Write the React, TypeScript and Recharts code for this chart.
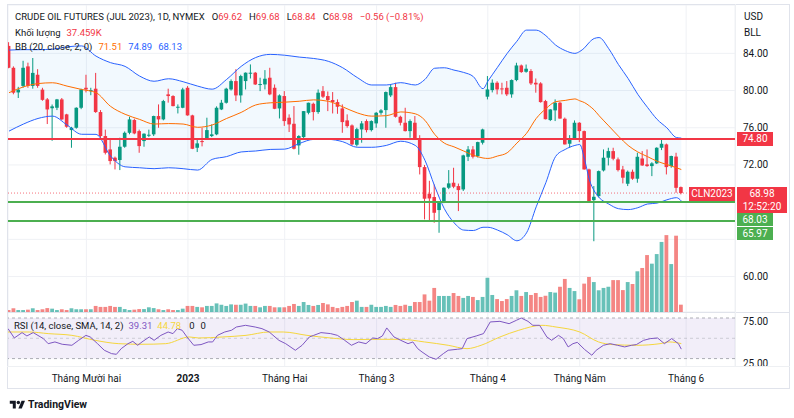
import React from 'react';
import { ComposedChart, Bar, Line, Area, XAxis, YAxis, CartesianGrid, ReferenceLine, ReferenceArea } from 'recharts';

// daily candles, CLN2023 (index 0 = first bar on the left)
const opens = [84.8, 82.45, 79.8, 80.5, 82.6, 80.5, 81.7, 80.1, 79.05, 78.1, 78.15, 79.05, 77.44, 75.75, 76.0, 78.15, 80.3, 79.95, 80.2, 77.69, 75.11, 73.67, 72.78, 72.53, 73.96, 75.46, 76.83, 75.64, 74.57, 75.15, 75.29, 77.26, 76.9, 79.59, 79.41, 78.19, 78.15, 80.3, 77.33, 73.85, 74.57, 74.75, 75.11, 75.29, 77.97, 78.69, 80.12, 81.02, 79.48, 81.02, 81.81, 81.92, 80.66, 80.66, 81.38, 80.3, 78.08, 79.41, 77.08, 76.43, 74.1, 75.0, 77.61, 78.58, 77.69, 79.94, 79.41, 78.98, 78.76, 78.08, 76.79, 76.25, 74.17, 75.82, 76.72, 75.75, 76.47, 77.61, 77.9, 79.48, 80.37, 77.18, 76.54, 75.64, 76.54, 74.75, 71.77, 68.9, 68.55, 67.15, 68.01, 69.55, 70.09, 69.73, 69.37, 72.88, 73.67, 72.96, 74.39, 79.34, 80.05, 80.84, 80.23, 80.3, 79.59, 81.13, 82.7, 82.02, 82.1, 80.84, 80.77, 78.87, 76.83, 77.87, 78.69, 76.97, 74.28, 74.82, 76.54, 75.64, 71.52, 68.22, 68.65, 71.41, 72.78, 73.49, 72.6, 71.52, 69.98, 71.27, 70.52, 72.7, 72.06, 71.88, 72.17, 73.85, 74.21, 71.88, 72.9, 69.62];
const highs = [85.2, 82.6, 80.4, 83.2, 83.0, 83.5, 82.3, 80.3, 79.2, 78.5, 79.1, 79.2, 77.5, 76.1, 78.2, 80.2, 81.7, 80.3, 81.9, 77.9, 75.8, 74.9, 72.9, 74.93, 75.6, 77.18, 76.97, 75.8, 75.4, 75.8, 77.3, 78.51, 79.0, 80.2, 79.5, 78.51, 80.3, 80.48, 77.4, 74.75, 76.0, 77.08, 76.36, 78.3, 79.0, 80.3, 81.2, 82.3, 81.7, 81.95, 82.81, 82.0, 81.38, 82.2, 82.45, 80.66, 79.59, 79.94, 77.44, 78.33, 75.2, 77.8, 78.7, 78.7, 80.12, 80.48, 79.9, 79.84, 79.05, 78.51, 77.44, 76.36, 76.0, 76.72, 76.9, 76.8, 77.7, 78.0, 79.9, 80.6, 80.84, 77.3, 78.15, 76.9, 77.26, 75.2, 72.0, 70.3, 69.9, 68.1, 69.6, 71.45, 71.7, 70.0, 73.1, 74.03, 74.03, 74.5, 75.9, 81.56, 81.2, 81.0, 80.84, 81.02, 81.2, 82.99, 82.8, 82.8, 82.3, 81.3, 80.9, 79.0, 78.0, 79.05, 78.8, 77.1, 75.21, 76.79, 76.6, 75.7, 71.6, 69.73, 71.4, 73.67, 73.85, 73.85, 72.8, 71.9, 71.4, 71.5, 73.31, 73.49, 73.67, 72.3, 73.9, 74.75, 74.3, 73.0, 73.31, 69.68];
const lows = [82.4, 79.6, 79.2, 80.3, 80.3, 80.2, 80.3, 78.9, 76.4, 74.6, 77.9, 76.8, 76.0, 73.85, 75.9, 78.0, 79.8, 79.5, 77.6, 74.8, 73.13, 72.06, 71.52, 71.45, 73.85, 75.3, 75.3, 73.31, 73.96, 75.0, 75.11, 76.0, 76.8, 78.7, 78.3, 77.54, 78.1, 77.3, 73.7, 73.39, 74.0, 74.7, 75.0, 75.2, 77.9, 78.6, 80.0, 78.87, 78.7, 80.12, 81.3, 80.6, 79.94, 80.12, 79.5, 78.0, 77.0, 76.2, 75.54, 73.67, 73.1, 74.9, 77.44, 76.79, 77.5, 79.2, 77.79, 77.54, 77.5, 75.46, 76.0, 74.1, 74.0, 74.39, 75.5, 75.6, 76.0, 77.4, 76.0, 79.3, 77.1, 76.25, 75.6, 74.93, 74.7, 70.98, 66.15, 65.97, 65.79, 64.71, 67.9, 69.4, 69.5, 67.04, 69.2, 72.42, 72.7, 72.8, 74.2, 79.05, 79.8, 79.59, 79.59, 79.41, 79.23, 81.0, 81.9, 81.92, 80.6, 79.77, 78.7, 76.9, 76.72, 76.72, 76.97, 74.2, 73.85, 74.7, 74.46, 71.5, 68.0, 63.8, 68.5, 71.3, 71.95, 72.5, 71.3, 70.02, 69.73, 70.4, 70.09, 71.9, 71.8, 70.8, 72.1, 73.6, 70.98, 71.7, 69.01, 68.84];
const closes = [82.45, 79.77, 80.1, 82.45, 80.5, 81.9, 80.5, 79.0, 77.97, 78.3, 79.05, 76.9, 76.11, 76.0, 78.15, 80.12, 80.12, 80.05, 77.69, 75.11, 73.31, 72.42, 72.42, 73.96, 75.46, 76.9, 75.39, 74.03, 75.36, 75.25, 77.26, 76.9, 78.87, 79.41, 78.33, 78.26, 80.12, 77.33, 73.74, 74.32, 74.46, 75.75, 75.29, 78.15, 78.69, 80.2, 81.02, 79.48, 81.56, 81.92, 81.92, 80.66, 80.7, 81.27, 79.59, 78.04, 79.48, 76.72, 76.36, 73.74, 75.11, 77.79, 78.69, 77.69, 79.77, 79.34, 78.98, 78.76, 78.26, 76.61, 76.18, 74.21, 75.85, 76.47, 75.75, 76.72, 77.61, 77.87, 79.84, 80.37, 77.18, 76.54, 75.64, 76.72, 74.75, 71.77, 68.37, 68.4, 66.86, 68.05, 69.55, 70.02, 69.66, 69.3, 73.03, 73.67, 72.88, 74.46, 75.82, 80.12, 80.84, 80.12, 80.2, 79.59, 81.13, 82.7, 81.99, 82.35, 80.77, 80.66, 78.76, 76.92, 77.97, 78.69, 76.99, 74.21, 74.82, 76.54, 75.64, 71.52, 68.01, 68.58, 71.34, 72.78, 73.49, 72.67, 71.45, 70.63, 71.27, 70.52, 72.88, 71.95, 71.88, 72.17, 73.85, 74.28, 71.77, 72.96, 69.54, 68.98];
// volume in thousands
const volumes = [10, 19, 10, 10, 12, 19, 10, 14, 20, 17, 10, 14, 10, 19, 14, 14, 14, 14, 31, 26, 26, 31, 26, 26, 15, 10, 12, 15, 15, 24, 20, 14, 10, 14, 10, 10, 17, 31, 31, 26, 24, 31, 31, 44, 37, 31, 39, 37, 37, 43, 31, 31, 24, 31, 31, 24, 24, 24, 31, 41, 31, 51, 36, 31, 36, 46, 39, 26, 20, 26, 31, 51, 58, 26, 26, 37, 26, 26, 31, 26, 36, 31, 37, 31, 51, 51, 90, 58, 123, 82, 82, 82, 97, 82, 72, 82, 77, 61, 77, 175, 87, 66, 56, 66, 82, 111, 82, 102, 87, 97, 77, 83, 102, 99, 129, 169, 123, 107, 65, 145, 179, 153, 111, 123, 129, 163, 163, 112, 153, 143, 208, 225, 291, 247, 296, 358, 393, 245, 390, 37.459];

// Bollinger bands (20, 2) read at these bar indices
const bbIdx = [0, 3, 6, 9, 12, 15, 18, 21, 24, 27, 30, 33, 36, 39, 42, 45, 48, 51, 54, 57, 60, 63, 66, 69, 72, 75, 78, 81, 84, 86, 88, 90, 92, 94, 96, 98, 99, 101, 103, 105, 107, 109, 111, 113, 115, 117, 118, 119, 120, 121, 122, 124, 126, 128, 130, 132, 134, 136, 138, 139];
const bbUpper = [84.35, 84.4, 84.4, 84.45, 84.7, 84.8, 83.7, 83.0, 82.6, 81.56, 81.0, 81.27, 80.95, 80.48, 80.15, 81.2, 82.6, 83.55, 83.89, 83.8, 83.6, 83.45, 83.15, 82.45, 81.4, 80.6, 80.6, 80.85, 80.6, 81.2, 82.4, 82.45, 82.2, 81.95, 81.5, 80.2, 81.0, 82.5, 84.0, 85.3, 86.5, 86.5, 85.9, 84.9, 84.3, 84.0, 84.2, 84.6, 85.2, 85.6, 85.7, 84.5, 82.8, 81.3, 79.6, 78.2, 76.9, 76.0, 74.95, 74.89];
const bbMid = [79.77, 80.4, 80.75, 80.84, 80.48, 80.12, 79.77, 78.3, 77.45, 76.9, 76.4, 76.45, 76.4, 76.05, 76.3, 77.0, 77.65, 78.45, 78.68, 78.75, 78.85, 79.0, 78.85, 78.25, 77.6, 77.25, 77.3, 77.7, 77.5, 76.8, 75.3, 74.35, 73.95, 73.5, 73.05, 72.75, 72.7, 72.96, 73.31, 74.35, 75.4, 77.0, 78.05, 78.8, 78.94, 79.1, 78.9, 78.7, 78.35, 77.9, 77.3, 76.2, 75.1, 74.1, 73.4, 72.9, 72.4, 72.05, 71.7, 71.51];
const bbLower = [75.64, 76.4, 77.0, 77.25, 76.3, 75.3, 75.29, 72.96, 71.8, 71.7, 71.6, 71.7, 71.6, 71.45, 72.6, 72.9, 73.4, 73.5, 73.67, 73.7, 74.3, 74.75, 74.75, 74.5, 73.9, 73.9, 74.1, 74.55, 74.1, 72.5, 69.73, 67.3, 65.8, 65.0, 64.95, 65.3, 65.3, 65.0, 64.5, 63.85, 64.7, 67.5, 70.1, 72.9, 73.67, 74.1, 74.2, 72.6, 70.4, 69.2, 68.5, 67.8, 67.3, 67.2, 67.4, 67.8, 67.9, 68.25, 68.48, 68.13];

// RSI 14 and its SMA 14
const rsiIdx = [-0.2, 1.1, 2.7, 3.7, 5.0, 7.1, 8.1, 9.5, 11.0, 13.0, 14.4, 15.9, 16.8, 18.3, 19.7, 21.2, 22.2, 23.2, 24.6, 25.6, 26.6, 27.5, 29.0, 30.0, 31.4, 32.9, 33.9, 34.8, 35.8, 36.8, 38.2, 39.7, 41.2, 42.1, 43.1, 44.6, 46.0, 47.0, 48.9, 50.9, 52.3, 53.8, 55.8, 57.2, 59.2, 60.6, 62.1, 63.0, 64.5, 66.5, 67.9, 69.4, 70.8, 72.3, 73.8, 75.2, 76.2, 77.2, 78.1, 79.6, 81.0, 82.5, 83.5, 84.5, 85.4, 86.9, 88.3, 89.8, 90.8, 92.7, 93.7, 94.7, 96.6, 98.1, 99.5, 101.5, 103.4, 104.9, 105.9, 107.3, 108.3, 109.7, 111.2, 112.2, 113.6, 114.6, 115.6, 116.6, 117.5, 119.0, 120.5, 121.4, 122.9, 124.3, 125.8, 127.3, 128.7, 129.7, 131.2, 132.6, 134.1, 135.5, 137.0, 138.4, 139.0];
const rsiVal = [59.5, 50.3, 55.6, 52.3, 55.6, 49.7, 44.7, 46.4, 44.1, 43.1, 48.0, 52.9, 51.3, 44.7, 38.2, 34.9, 34.2, 39.8, 44.7, 47.0, 43.1, 46.4, 51.3, 48.0, 52.9, 56.2, 54.6, 59.5, 57.9, 51.3, 43.1, 43.8, 46.4, 46.4, 52.9, 56.2, 57.9, 61.1, 62.8, 61.1, 59.5, 56.2, 48.0, 44.7, 38.2, 43.1, 51.3, 52.9, 55.6, 54.6, 52.9, 48.0, 43.1, 46.4, 44.7, 50.3, 49.7, 52.3, 60.2, 51.3, 48.0, 44.7, 46.4, 39.8, 36.5, 31.6, 29.3, 34.9, 38.2, 39.2, 39.8, 49.7, 52.3, 54.6, 66.1, 66.7, 64.4, 67.7, 70.0, 66.7, 62.8, 62.8, 51.3, 48.0, 52.9, 49.7, 41.5, 44.7, 46.0, 39.0, 33.3, 38.2, 43.1, 44.7, 43.1, 41.5, 43.1, 43.8, 48.0, 49.7, 50.3, 44.7, 49.7, 44.7, 39.31];
const rsiMaIdx = [-0.2, 4.2, 8.1, 13.0, 17.8, 22.7, 27.5, 32.4, 37.3, 39.2, 44.1, 49.0, 53.8, 56.7, 61.6, 66.5, 71.3, 76.2, 81.0, 85.9, 90.8, 94.7, 97.6, 101.5, 105.4, 110.2, 113.1, 118.0, 121.9, 124.8, 129.7, 134.6, 136.5, 139.0];
const rsiMaVal = [56.2, 56.2, 54.6, 52.9, 48.0, 44.7, 44.1, 44.7, 51.3, 50.3, 51.3, 52.9, 56.2, 56.2, 52.9, 50.3, 48.7, 49.0, 49.0, 46.4, 43.1, 39.8, 43.1, 51.3, 57.9, 62.8, 61.1, 56.2, 46.4, 43.8, 43.1, 44.7, 46.4, 44.78];

const monthTicks = [16, 37, 57, 76, 99, 118, 140];
const monthLabels = ['Tháng Mười hai', '2023', 'Tháng Hai', 'Tháng 3', 'Tháng 4', 'Tháng Năm', 'Tháng 6'];
const priceTicks = [60, 64, 68, 72, 76, 80, 84];
// 64 and 68 sit under the price tags in the screenshot
const hiddenPriceLabels = [64, 68];
const rsiTicks = [25, 75];

const resistance = 74.8;
const supports = [68.03, 65.97];
const lastPrice = 68.98;

const UP = '#089981';
const DOWN = '#F23645';
const FONT = 'Roboto, "Noto Sans", sans-serif';
const X_DOMAIN: [number, number] = [-0.207, 150.1];
const P_DOMAIN: [number, number] = [56.19, 89.2];

const candles = opens.map((o, i) => ({
  i,
  o,
  h: highs[i],
  l: lows[i],
  c: closes[i],
  v: volumes[i],
  range: [lows[i], highs[i]],
}));
const bbData = bbIdx.map((i, k) => ({ i, up: bbUpper[k], mid: bbMid[k], low: bbLower[k], band: [bbLower[k], bbUpper[k]] }));
const rsiData = rsiIdx.map((i, k) => ({ i, rsi: rsiVal[k] }));
const rsiMaData = rsiMaIdx.map((i, k) => ({ i, ma: rsiMaVal[k] }));

// pixel row of a price in the main pane (plot spans y 5..312)
const priceY = (p: number) => 5 + ((P_DOMAIN[1] - p) / (P_DOMAIN[1] - P_DOMAIN[0])) * 307;

const Candle = (props: any) => {
  const { x, y, width, height, payload } = props;
  if (payload == null || height == null) return null;
  const { o, h, l, c } = payload;
  const color = c >= o ? UP : DOWN;
  const cx = x + width / 2;
  const k = height / (h - l || 1);
  const top = y + (h - Math.max(o, c)) * k;
  const bh = Math.max(1, Math.abs(o - c) * k);
  return (
    <g>
      <line x1={cx} x2={cx} y1={y} y2={y + height} stroke={color} strokeWidth={1} />
      <rect x={cx - 1.8} y={top} width={3.6} height={bh} fill={color} />
    </g>
  );
};

const VolBar = (props: any) => {
  const { x, y, width, height, payload } = props;
  if (payload == null) return null;
  const color = payload.c >= payload.o ? 'rgba(38,166,154,0.7)' : 'rgba(239,83,80,0.7)';
  const cx = x + width / 2;
  return <rect x={cx - 1.9} y={y} width={3.8} height={Math.max(0, height)} fill={color} />;
};

const PriceTick = (props: any) => {
  const { y, payload } = props;
  if (hiddenPriceLabels.includes(payload.value)) return null;
  return (
    <text x={743} y={y} dy={3.5} fontSize={10} fill="#131722" fontFamily={FONT}>
      {payload.value.toFixed(2)}
    </text>
  );
};

const RsiTick = (props: any) => {
  const { y, payload } = props;
  return (
    <text x={743} y={y} dy={3.5} fontSize={10} fill="#131722" fontFamily={FONT}>
      {payload.value.toFixed(2)}
    </text>
  );
};

const TimeTick = (props: any) => {
  const { x, y, payload } = props;
  const label = monthLabels[monthTicks.indexOf(payload.value)];
  return (
    <text x={x} y={y} dy={14} textAnchor="middle" fontSize={10} fontWeight={label === '2023' ? 700 : 400} fill="#131722" fontFamily={FONT}>
      {label}
    </text>
  );
};

const Tag = ({ top, left, width, height, bg, lines }: any) => (
  <div
    style={{
      position: 'absolute',
      top,
      left,
      width,
      height,
      background: bg,
      color: '#fff',
      fontSize: 10,
      lineHeight: `${height / lines.length}px`,
      textAlign: 'center',
      fontFamily: FONT,
    }}
  >
    {lines.map((t: string) => (
      <div key={t}>{t}</div>
    ))}
  </div>
);

const red = { color: DOWN };

export default function App() {
  return (
    <div style={{ position: 'absolute', left: 0, top: 0, width: 794, height: 418, background: '#fff', fontFamily: FONT, overflow: 'hidden' }}>
      <div style={{ position: 'absolute', left: 0, top: 0 }}>
        <ComposedChart width={790} height={312} data={candles} margin={{ top: 5, right: 0, bottom: 0, left: 8 }}>
          <XAxis xAxisId="c" dataKey="i" type="number" domain={X_DOMAIN} ticks={monthTicks} hide allowDataOverflow />
          <XAxis xAxisId="v" dataKey="i" type="number" domain={X_DOMAIN} hide allowDataOverflow />
          <XAxis xAxisId="b" dataKey="i" type="number" domain={X_DOMAIN} hide allowDataOverflow />
          <YAxis
            yAxisId="p"
            orientation="right"
            width={55}
            domain={P_DOMAIN}
            ticks={priceTicks}
            allowDataOverflow
            axisLine={false}
            tickLine={false}
            tick={<PriceTick />}
          />
          <YAxis yAxisId="vol" hide domain={[0, 1569]} allowDataOverflow />
          <CartesianGrid xAxisId="c" yAxisId="p" stroke="#EFF1F5" />
          <Area xAxisId="b" yAxisId="p" data={bbData} dataKey="band" type="monotone" stroke="none" fill="#2196F3" fillOpacity={0.06} isAnimationActive={false} />
          <Bar xAxisId="v" yAxisId="vol" dataKey="v" barSize={4} shape={<VolBar />} isAnimationActive={false} />
          <Line xAxisId="b" yAxisId="p" data={bbData} dataKey="up" type="monotone" stroke="#2962FF" strokeWidth={1} dot={false} activeDot={false} isAnimationActive={false} />
          <Line xAxisId="b" yAxisId="p" data={bbData} dataKey="low" type="monotone" stroke="#2962FF" strokeWidth={1} dot={false} activeDot={false} isAnimationActive={false} />
          <Line xAxisId="b" yAxisId="p" data={bbData} dataKey="mid" type="monotone" stroke="#FF6D00" strokeWidth={1} dot={false} activeDot={false} isAnimationActive={false} />
          <ReferenceLine xAxisId="c" yAxisId="p" y={lastPrice} stroke={DOWN} strokeOpacity={0.7} strokeDasharray="1 2" />
          <ReferenceLine xAxisId="c" yAxisId="p" y={resistance} stroke="#F23645" strokeWidth={2} />
          {supports.map((s) => (
            <ReferenceLine key={s} xAxisId="c" yAxisId="p" y={s} stroke="#4CAF50" strokeWidth={2} />
          ))}
          <Bar xAxisId="c" yAxisId="p" dataKey="range" barSize={4} shape={<Candle />} isAnimationActive={false} />
        </ComposedChart>
      </div>

      <div style={{ position: 'absolute', left: 0, top: 312 }}>
        <ComposedChart width={790} height={77} margin={{ top: 0, right: 0, bottom: 0, left: 8 }}>
          <XAxis
            dataKey="i"
            type="number"
            domain={X_DOMAIN}
            ticks={monthTicks}
            interval={0}
            allowDataOverflow
            axisLine={false}
            tickLine={false}
            tickSize={0}
            height={23}
            tick={<TimeTick />}
          />
          <YAxis
            orientation="right"
            width={55}
            domain={[22.7, 75.9]}
            ticks={rsiTicks}
            allowDataOverflow
            axisLine={false}
            tickLine={false}
            tick={<RsiTick />}
          />
          <CartesianGrid horizontal={false} stroke="#EFF1F5" />
          <ReferenceArea y1={30} y2={70} fill="#7E57C2" fillOpacity={0.1} stroke="none" />
          <ReferenceLine y={70} stroke="#787B86" strokeOpacity={0.6} strokeDasharray="3 3" />
          <ReferenceLine y={50} stroke="#787B86" strokeOpacity={0.3} strokeDasharray="3 3" />
          <ReferenceLine y={30} stroke="#787B86" strokeOpacity={0.6} strokeDasharray="3 3" />
          <Line data={rsiMaData} dataKey="ma" type="monotone" stroke="#F5D63D" strokeWidth={1} dot={false} activeDot={false} isAnimationActive={false} />
          <Line data={rsiData} dataKey="rsi" type="linear" stroke="#7E57C2" strokeWidth={1} dot={false} activeDot={false} isAnimationActive={false} />
        </ComposedChart>
      </div>

      {/* frame and pane separators */}
      <div style={{ position: 'absolute', left: 7, top: 4, width: 783, height: 385, border: '1px solid #E0E3EB', boxSizing: 'border-box' }} />
      <div style={{ position: 'absolute', left: 7, top: 312, width: 783, height: 1, background: '#E0E3EB' }} />
      <div style={{ position: 'absolute', left: 7, top: 366, width: 783, height: 1, background: '#EEF0F3' }} />
      <div style={{ position: 'absolute', left: 735, top: 4, width: 1, height: 362, background: '#EEF0F3' }} />

      {/* legends */}
      <div style={{ position: 'absolute', left: 15, top: 10, fontSize: 9.5, lineHeight: '14px', color: '#131722', whiteSpace: 'nowrap' }}>
        CRUDE OIL FUTURES (JUL 2023), 1D, NYMEX
        <span style={{ marginLeft: 7 }}>O<span style={red}>69.62</span></span>
        <span style={{ marginLeft: 7 }}>H<span style={red}>69.68</span></span>
        <span style={{ marginLeft: 7 }}>L<span style={red}>68.84</span></span>
        <span style={{ marginLeft: 7 }}>C<span style={red}>68.98</span></span>
        <span style={{ marginLeft: 7, ...red }}>−0.56 (−0.81%)</span>
      </div>
      <div style={{ position: 'absolute', left: 15, top: 26, fontSize: 9.5, lineHeight: '14px', color: '#131722', whiteSpace: 'nowrap' }}>
        Khối lượng<span style={{ marginLeft: 6, ...red }}>37.459K</span>
      </div>
      <div style={{ position: 'absolute', left: 15, top: 39.5, fontSize: 9.5, lineHeight: '14px', color: '#131722', whiteSpace: 'nowrap' }}>
        BB (20, close, 2, 0)
        <span style={{ marginLeft: 6, color: '#FF6D00' }}>71.51</span>
        <span style={{ marginLeft: 6, color: '#2962FF' }}>74.89</span>
        <span style={{ marginLeft: 6, color: '#2962FF' }}>68.13</span>
      </div>
      <div style={{ position: 'absolute', left: 14, top: 319, fontSize: 9.5, lineHeight: '14px', color: '#131722', whiteSpace: 'nowrap' }}>
        RSI (14, close, SMA, 14, 2)
        <span style={{ marginLeft: 5, color: '#7E57C2' }}>39.31</span>
        <span style={{ marginLeft: 5, color: '#F5D63D' }}>44.78</span>
        <span style={{ marginLeft: 8 }}>0</span>
        <span style={{ marginLeft: 6 }}>0</span>
      </div>

      {/* price scale header */}
      <div style={{ position: 'absolute', left: 744, top: 10, fontSize: 10, lineHeight: '14px', color: '#131722' }}>USD</div>
      <div style={{ position: 'absolute', left: 744, top: 26, fontSize: 10, lineHeight: '14px', color: '#131722' }}>BLL</div>

      {/* price scale tags */}
      <Tag top={priceY(resistance) - 7} left={737} width={36} height={14} bg="#F23645" lines={['74.80']} />
      <Tag top={priceY(lastPrice) - 6.5} left={737} width={50} height={26} bg="#F23645" lines={['68.98', '12:52:20']} />
      <Tag top={priceY(lastPrice) + 19.5} left={737} width={36} height={13.5} bg="#4CAF50" lines={['68.03']} />
      <Tag top={priceY(lastPrice) + 33.5} left={737} width={36} height={13.5} bg="#4CAF50" lines={['65.97']} />
      <Tag top={priceY(lastPrice) - 6} left={689} width={46} height={14} bg="#F23645" lines={['CLN2023']} />

      {/* TradingView mark */}
      <svg style={{ position: 'absolute', left: 9, top: 399 }} width={17} height={12} viewBox="0 0 36 28">
        <path d="M14 22H7V11H0V4h14v18z" fill="#131722" />
        <circle cx="20" cy="8" r="4" fill="#131722" />
        <path d="M28 22h-8l7.5-18h8L28 22z" fill="#131722" />
      </svg>
      <div style={{ position: 'absolute', left: 28, top: 398, fontSize: 10.5, lineHeight: '14px', fontWeight: 700, color: '#131722' }}>TradingView</div>
    </div>
  );
}
